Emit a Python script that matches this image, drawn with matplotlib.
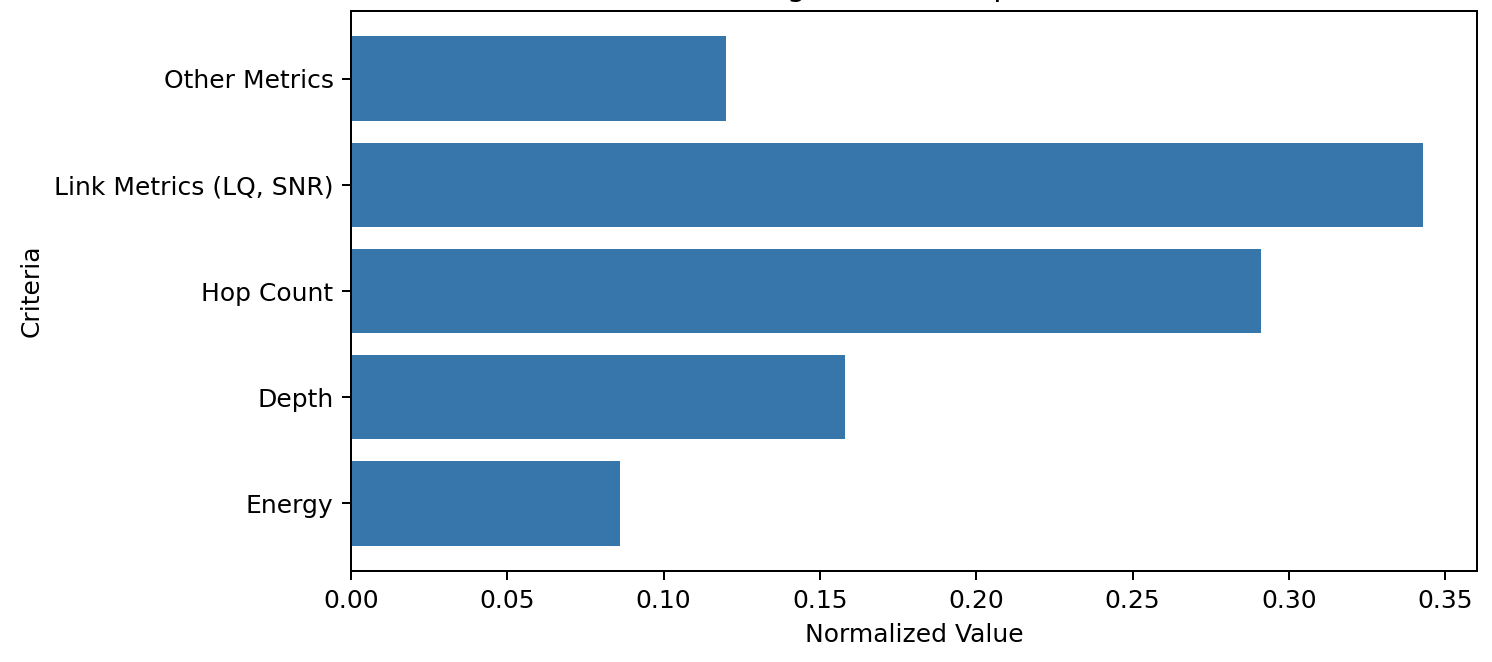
import matplotlib
matplotlib.use('Agg')
import matplotlib.pyplot as plt

# 父节点选择准则的归一化权重
criteria = ['Energy', 'Depth', 'Hop Count', 'Link Metrics (LQ, SNR)', 'Other Metrics']
values = [0.086, 0.158, 0.291, 0.343, 0.120]

DPI = 180
W, H = 1492, 662
fig = plt.figure(figsize=(W / DPI, H / DPI), dpi=DPI)
# 坐标轴位置按参考图像素放置（标题上半部分被裁掉）
ax = fig.add_axes([351 / W, 1 - 571 / H, 1126 / W, 560 / H])

ax.barh(criteria, values, color='#3776ab')
ax.set_xlabel('Normalized Value')
ax.set_ylabel('Criteria')
ax.set_title('Average Criteria Importance')

fig.savefig('out.png', dpi=DPI)
